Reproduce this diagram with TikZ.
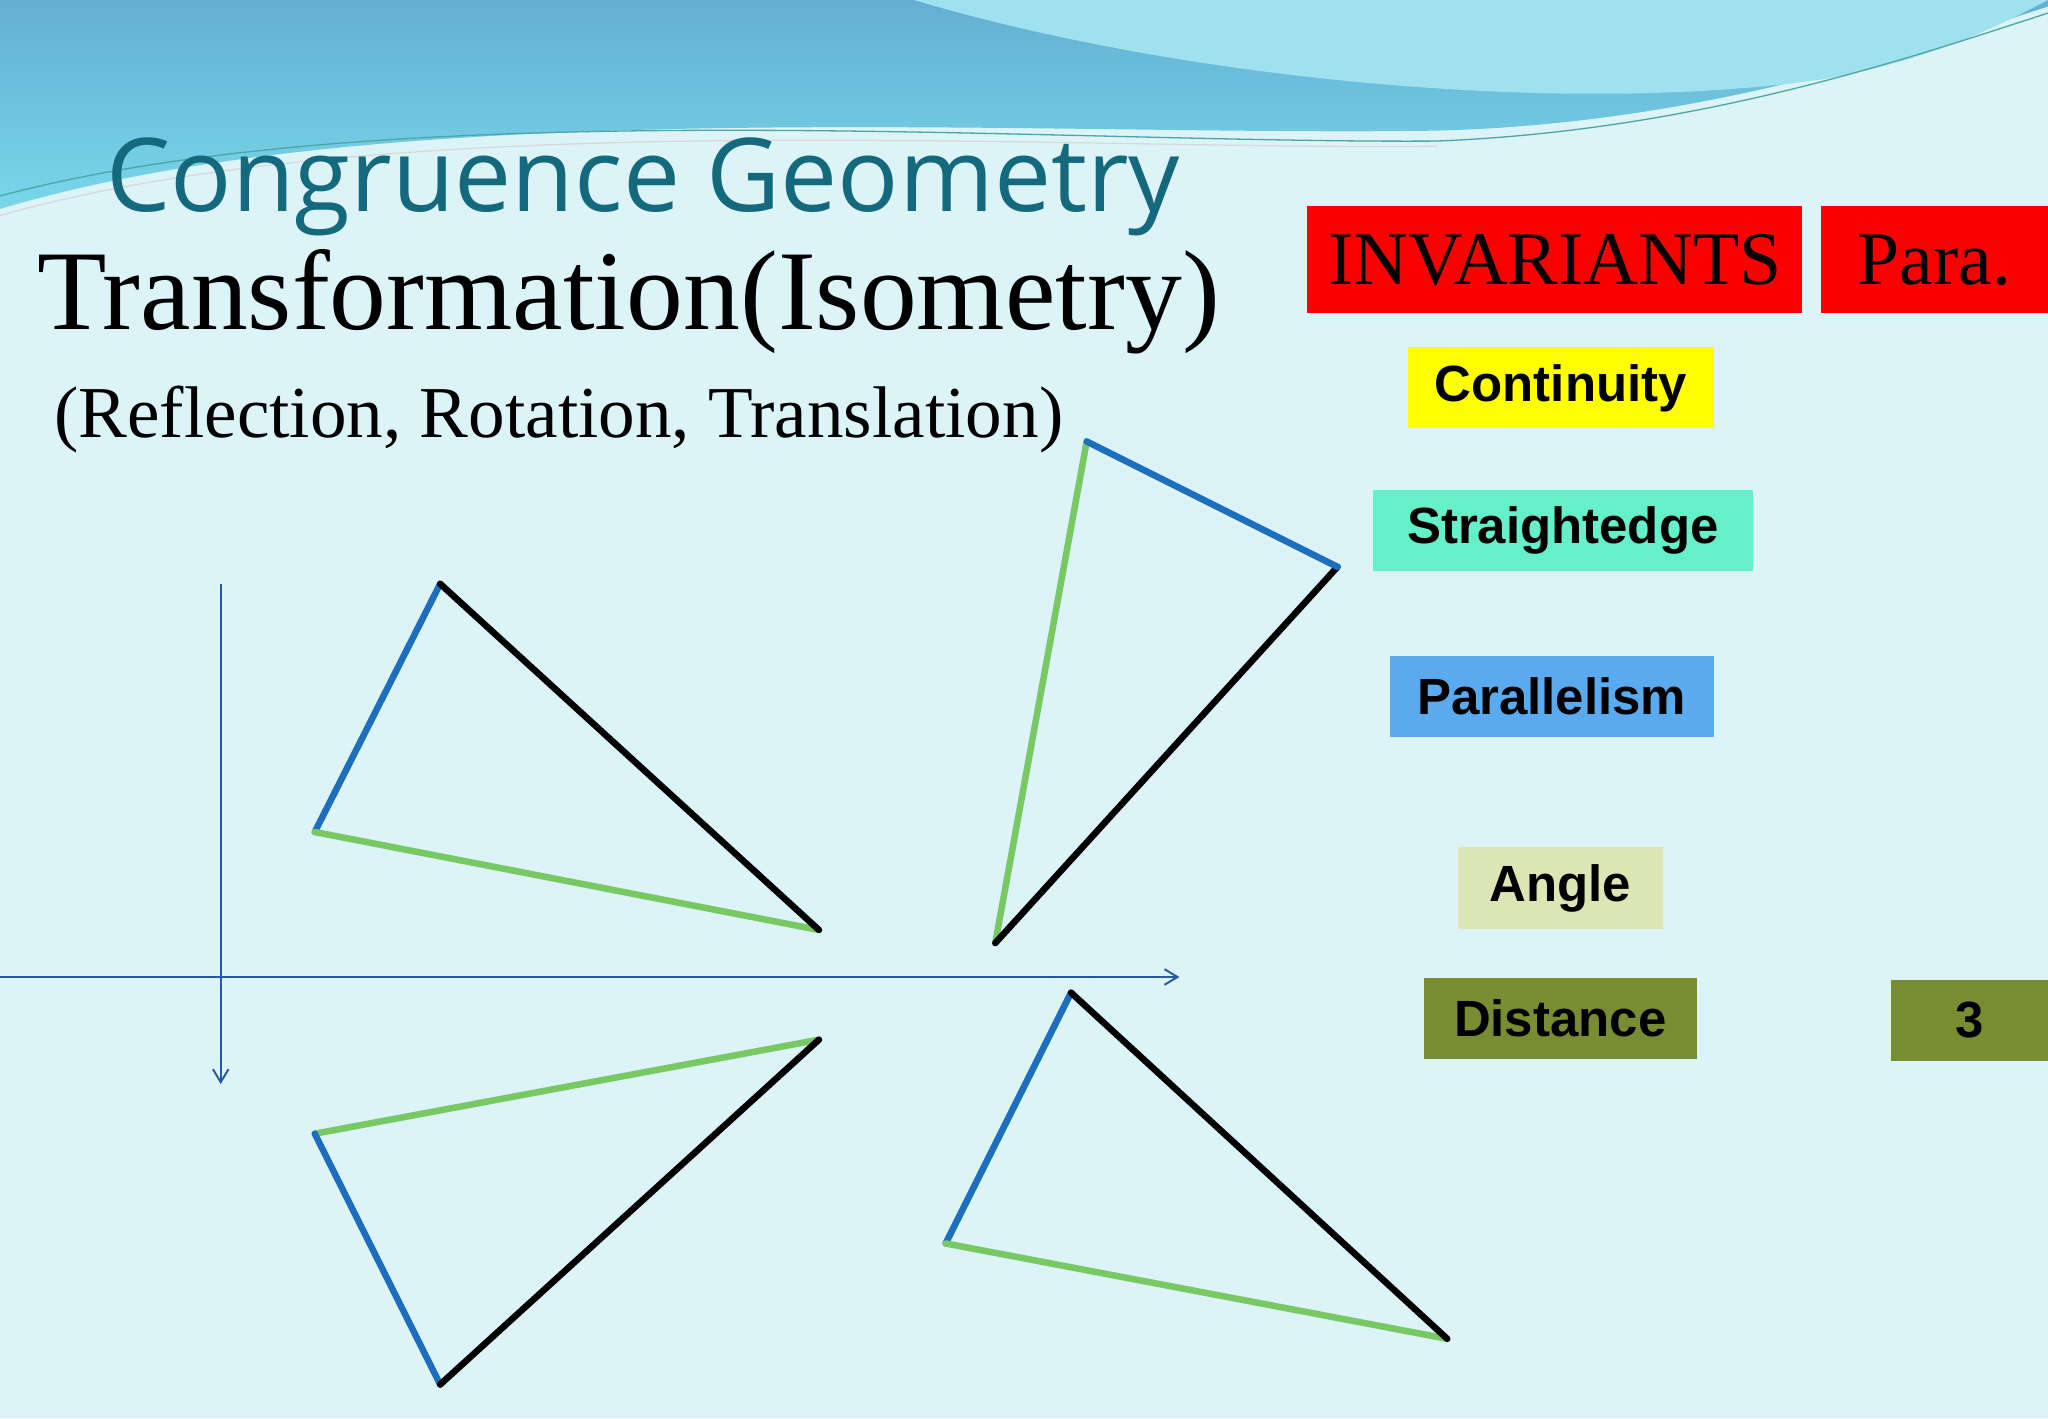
\documentclass[tikz,border=0pt]{standalone}
\usepackage{fontspec}
\setmainfont{Liberation Serif}
\newfontfamily\titlefont{Open Sans}
\newfontfamily\boxfont{Liberation Sans}
\usetikzlibrary{arrows.meta}
\definecolor{bg}{RGB}{220,243,248}
\definecolor{titlec}{RGB}{20,105,125}
\definecolor{tblue}{RGB}{30,110,190}
\definecolor{tgreen}{RGB}{120,200,100}
\definecolor{axisc}{RGB}{40,90,160}
\definecolor{cred}{RGB}{250,0,0}
\definecolor{cyel}{RGB}{255,255,0}
\definecolor{caqua}{RGB}{100,240,200}
\definecolor{cpar}{RGB}{90,170,240}
\definecolor{cang}{RGB}{220,230,180}
\definecolor{colive}{RGB}{120,140,50}
\definecolor{wavetop}{RGB}{100,175,210}
\definecolor{wavebot}{RGB}{120,215,235}
\definecolor{wavelight}{RGB}{160,225,240}
\tikzset{
 invbox/.style={fill=#1,inner sep=0pt,font=\boxfont\bfseries\fontsize{39}{42}\selectfont},
 redbox/.style={fill=cred,inner sep=0pt,font=\fontsize{58}{60}\selectfont},
 edge/.style={line width=5pt,line cap=round},
 ax/.style={axisc,line width=1.5pt,-{Straight Barb[length=10pt,width=12pt]}}
}
\begin{document}
\begin{tikzpicture}[x=1pt,y=-1pt]
\fill[bg] (0,0) rectangle (1568,1086);
\useasboundingbox (0,0) rectangle (1568,1086);
% top wave
\shade[top color=wavetop,bottom color=wavebot] (0,0)--(0,160) .. controls (300,70) and (800,105) .. (1100,100) .. controls (1300,95) and (1460,40) .. (1568,5) -- (1568,0) -- cycle;
\fill[wavelight] (700,0) .. controls (900,60) and (1200,90) .. (1400,60) .. controls (1480,45) and (1530,20) .. (1568,0) -- cycle;
\draw[teal!70,line width=1pt] (0,150) .. controls (300,70) and (800,110) .. (1100,108) .. controls (1300,100) and (1460,45) .. (1568,10);
\draw[white!70!gray,line width=1pt] (0,165) .. controls (300,80) and (800,115) .. (1100,112);
% titles
\node[anchor=base west,text=titlec,font=\titlefont\fontsize{78}{80}\selectfont] (t1) at (78,162) {Congruence Geometry};
\node[anchor=base west,font=\fontsize{87}{90}\selectfont] (t2) at (25,252) {Transformation(Isometry)};
\node[anchor=base west,font=\fontsize{56}{58}\selectfont] (t3) at (38,335) {(Reflection, Rotation, Translation)};
% boxes
\node[redbox,minimum width=379pt,minimum height=82pt] (inv) at (1190.5,199) {INVARIANTS};
\node[redbox,minimum width=174pt,minimum height=82pt] (para) at (1481,199) {Para.};
\node[invbox=cyel,minimum width=234pt,minimum height=62pt] (c) at (1195,297) {Continuity};
\node[invbox=caqua,minimum width=291pt,minimum height=62pt] (s) at (1196.5,406) {Straightedge};
\node[invbox=cpar,minimum width=248pt,minimum height=62pt] (p) at (1188,533) {Parallelism};
\node[invbox=cang,minimum width=157pt,minimum height=63pt] (a) at (1194.5,680) {Angle};
\node[invbox=colive,minimum width=209pt,minimum height=62pt] (d) at (1194.5,780) {Distance};
\node[invbox=colive,minimum width=120pt,minimum height=62pt] (n3) at (1508,781) {3};
% axes
\coordinate (hx0) at (0,748); \coordinate (hx1) at (903,748);
\coordinate (vy0) at (169,447); \coordinate (vy1) at (169,830);
\draw[ax] (hx0)--(hx1);
\draw[ax] (vy0)--(vy1);
% triangle 1
\coordinate (a1) at (337,447); \coordinate (b1) at (241,637); \coordinate (c1) at (627,712);
\draw[edge,tblue] (a1)--(b1); \draw[edge,tgreen] (b1)--(c1); \draw[edge,black] (a1)--(c1);
% triangle 2
\coordinate (a2) at (832,338); \coordinate (b2) at (1024,434); \coordinate (c2) at (762,722);
\draw[edge,tgreen] (a2)--(c2); \draw[edge,black] (b2)--(c2); \draw[edge,tblue] (a2)--(b2);
% triangle 3
\coordinate (a3) at (627,796); \coordinate (b3) at (241,868); \coordinate (c3) at (337,1060);
\draw[edge,tgreen] (a3)--(b3); \draw[edge,tblue] (b3)--(c3); \draw[edge,black] (c3)--(a3);
% triangle 4
\coordinate (a4) at (820,760); \coordinate (b4) at (724,952); \coordinate (c4) at (1108,1025);
\draw[edge,tblue] (a4)--(b4); \draw[edge,tgreen] (b4)--(c4); \draw[edge,black] (a4)--(c4);
\end{tikzpicture}
\end{document}
